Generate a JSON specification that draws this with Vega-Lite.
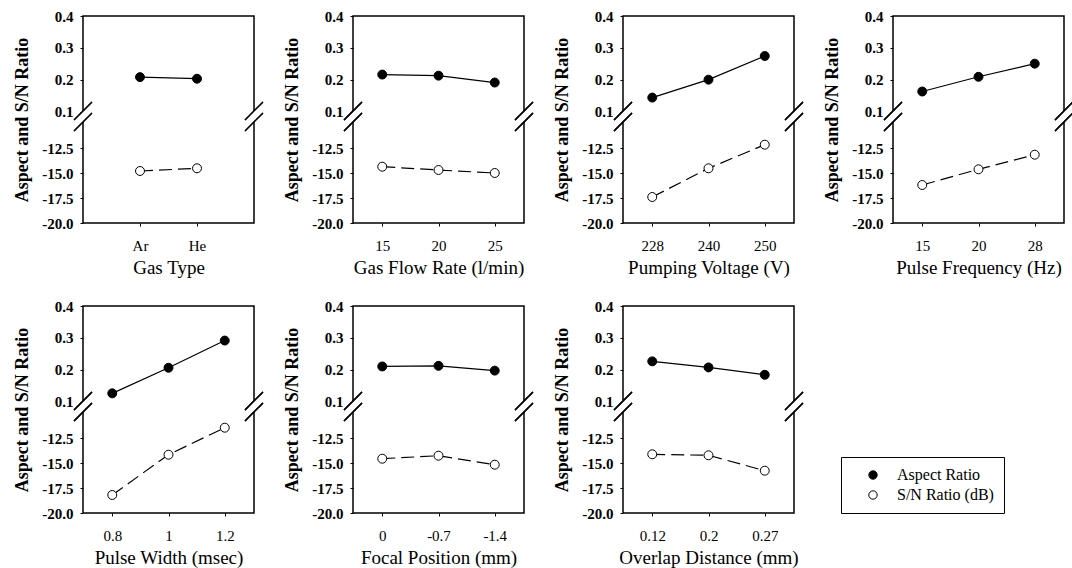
{
  "$schema": "https://vega.github.io/schema/vega-lite/v6.json",
  "background": "white",
  "padding": {"left": 13, "top": 8, "right": 5, "bottom": 5},
  "datasets": {
    "d": [
      {"factor": "Gas Type", "level": "Ar", "series": "Aspect Ratio", "value": 0.209},
      {"factor": "Gas Type", "level": "He", "series": "Aspect Ratio", "value": 0.204},
      {"factor": "Gas Type", "level": "Ar", "series": "S/N Ratio (dB)", "value": -14.8},
      {"factor": "Gas Type", "level": "He", "series": "S/N Ratio (dB)", "value": -14.53},
      {"factor": "Gas Flow", "level": "15", "series": "Aspect Ratio", "value": 0.217},
      {"factor": "Gas Flow", "level": "20", "series": "Aspect Ratio", "value": 0.2135},
      {"factor": "Gas Flow", "level": "25", "series": "Aspect Ratio", "value": 0.192},
      {"factor": "Gas Flow", "level": "15", "series": "S/N Ratio (dB)", "value": -14.37},
      {"factor": "Gas Flow", "level": "20", "series": "S/N Ratio (dB)", "value": -14.7},
      {"factor": "Gas Flow", "level": "25", "series": "S/N Ratio (dB)", "value": -15.0},
      {"factor": "Pumping Voltage", "level": "228", "series": "Aspect Ratio", "value": 0.145},
      {"factor": "Pumping Voltage", "level": "240", "series": "Aspect Ratio", "value": 0.201},
      {"factor": "Pumping Voltage", "level": "250", "series": "Aspect Ratio", "value": 0.275},
      {"factor": "Pumping Voltage", "level": "228", "series": "S/N Ratio (dB)", "value": -17.4},
      {"factor": "Pumping Voltage", "level": "240", "series": "S/N Ratio (dB)", "value": -14.53},
      {"factor": "Pumping Voltage", "level": "250", "series": "S/N Ratio (dB)", "value": -12.17},
      {"factor": "Pulse Frequency", "level": "15", "series": "Aspect Ratio", "value": 0.164},
      {"factor": "Pulse Frequency", "level": "20", "series": "Aspect Ratio", "value": 0.21},
      {"factor": "Pulse Frequency", "level": "28", "series": "Aspect Ratio", "value": 0.251},
      {"factor": "Pulse Frequency", "level": "15", "series": "S/N Ratio (dB)", "value": -16.2},
      {"factor": "Pulse Frequency", "level": "20", "series": "S/N Ratio (dB)", "value": -14.63},
      {"factor": "Pulse Frequency", "level": "28", "series": "S/N Ratio (dB)", "value": -13.17},
      {"factor": "Pulse Width", "level": "0.8", "series": "Aspect Ratio", "value": 0.127},
      {"factor": "Pulse Width", "level": "1", "series": "Aspect Ratio", "value": 0.207},
      {"factor": "Pulse Width", "level": "1.2", "series": "Aspect Ratio", "value": 0.292},
      {"factor": "Pulse Width", "level": "0.8", "series": "S/N Ratio (dB)", "value": -18.2},
      {"factor": "Pulse Width", "level": "1", "series": "S/N Ratio (dB)", "value": -14.17},
      {"factor": "Pulse Width", "level": "1.2", "series": "S/N Ratio (dB)", "value": -11.47},
      {"factor": "Focal Position", "level": "0", "series": "Aspect Ratio", "value": 0.211},
      {"factor": "Focal Position", "level": "-0.7", "series": "Aspect Ratio", "value": 0.213},
      {"factor": "Focal Position", "level": "-1.4", "series": "Aspect Ratio", "value": 0.198},
      {"factor": "Focal Position", "level": "0", "series": "S/N Ratio (dB)", "value": -14.57},
      {"factor": "Focal Position", "level": "-0.7", "series": "S/N Ratio (dB)", "value": -14.27},
      {"factor": "Focal Position", "level": "-1.4", "series": "S/N Ratio (dB)", "value": -15.17},
      {"factor": "Overlap Distance", "level": "0.12", "series": "Aspect Ratio", "value": 0.227},
      {"factor": "Overlap Distance", "level": "0.2", "series": "Aspect Ratio", "value": 0.208},
      {"factor": "Overlap Distance", "level": "0.27", "series": "Aspect Ratio", "value": 0.185},
      {"factor": "Overlap Distance", "level": "0.12", "series": "S/N Ratio (dB)", "value": -14.13},
      {"factor": "Overlap Distance", "level": "0.2", "series": "S/N Ratio (dB)", "value": -14.23},
      {"factor": "Overlap Distance", "level": "0.27", "series": "S/N Ratio (dB)", "value": -15.77}
    ]
  },
  "data": {"name": "d"},
  "columns": 4,
  "spacing": {"row": 20, "column": 16},
  "concat": [
    {
      "transform": [{"filter": "datum.factor == 'Gas Type'"}],
      "width": 171, "height": 207,
      "encoding": {"x": {"field": "level", "type": "ordinal", "sort": null, "scale": {"type": "point", "padding": 1}, "axis": {"title": "Gas Type"}}},
      "layer": [
        {
          "transform": [{"filter": "datum.series == 'Aspect Ratio'"}],
          "encoding": {"y": {"field": "value", "type": "quantitative", "scale": {"domain": [-0.247, 0.4], "nice": false, "zero": false}, "axis": {"orient": "left", "values": [0.1, 0.2, 0.3, 0.4], "format": ".1f", "title": null}}},
          "layer": [
            {"mark": {"type": "line", "color": "black", "strokeWidth": 1.2}},
            {"mark": {"type": "point", "shape": "circle", "filled": true, "size": 80, "opacity": 1, "stroke": "black", "strokeWidth": 1}, "encoding": {"fill": {"field": "series", "type": "nominal", "scale": {"domain": ["Aspect Ratio", "S/N Ratio (dB)"], "range": ["black", "white"]}, "legend": {"orient": "none", "legendX": 758, "legendY": 441, "title": null}}}},
            {"mark": {"type": "point", "shape": "M-0.9,0.35L0.9,-1.45L0.9,-0.35L-0.9,1.45Z", "filled": true, "fill": "white", "strokeWidth": 0, "size": 400, "opacity": 1}, "encoding": {"x": {"value": 0}, "y": {"datum": 0.086, "type": "quantitative"}}},
            {"mark": {"type": "point", "shape": "M-0.9,0.35L0.9,-1.45M-0.9,1.45L0.9,-0.35", "filled": false, "stroke": "black", "strokeWidth": 1.2, "size": 400, "opacity": 1}, "encoding": {"x": {"value": 0}, "y": {"datum": 0.086, "type": "quantitative"}}},
            {"mark": {"type": "point", "shape": "M-0.9,0.35L0.9,-1.45L0.9,-0.35L-0.9,1.45Z", "filled": true, "fill": "white", "strokeWidth": 0, "size": 400, "opacity": 1}, "encoding": {"x": {"value": "width"}, "y": {"datum": 0.086, "type": "quantitative"}}},
            {"mark": {"type": "point", "shape": "M-0.9,0.35L0.9,-1.45M-0.9,1.45L0.9,-0.35", "filled": false, "stroke": "black", "strokeWidth": 1.2, "size": 400, "opacity": 1}, "encoding": {"x": {"value": "width"}, "y": {"datum": 0.086, "type": "quantitative"}}}
          ]
        },
        {
          "transform": [{"filter": "datum.series == 'S/N Ratio (dB)'"}],
          "encoding": {"y": {"field": "value", "type": "quantitative", "scale": {"domain": [-20, 0.7], "nice": false, "zero": false}, "axis": {"orient": "left", "values": [-20, -17.5, -15, -12.5], "format": ".1f", "labelExpr": "replace(datum.label, '\u2212', '-')", "title": "Aspect and S/N Ratio"}}},
          "layer": [
            {"mark": {"type": "line", "color": "black", "strokeWidth": 1.2, "strokeDash": [13, 6]}},
            {"mark": {"type": "point", "shape": "circle", "filled": true, "size": 80, "opacity": 1, "stroke": "black", "strokeWidth": 1}, "encoding": {"fill": {"field": "series", "type": "nominal", "scale": {"domain": ["Aspect Ratio", "S/N Ratio (dB)"], "range": ["black", "white"]}, "legend": {"orient": "none", "legendX": 758, "legendY": 441, "title": null}}}}
          ]
        }
      ],
      "resolve": {"scale": {"y": "independent"}, "axis": {"y": "independent"}}
    },
    {
      "transform": [{"filter": "datum.factor == 'Gas Flow'"}],
      "width": 171, "height": 207,
      "encoding": {"x": {"field": "level", "type": "ordinal", "sort": null, "scale": {"type": "point", "padding": 0.52}, "axis": {"title": "Gas Flow Rate (l/min)"}}},
      "layer": [
        {
          "transform": [{"filter": "datum.series == 'Aspect Ratio'"}],
          "encoding": {"y": {"field": "value", "type": "quantitative", "scale": {"domain": [-0.247, 0.4], "nice": false, "zero": false}, "axis": {"orient": "left", "values": [0.1, 0.2, 0.3, 0.4], "format": ".1f", "title": null}}},
          "layer": [
            {"mark": {"type": "line", "color": "black", "strokeWidth": 1.2}},
            {"mark": {"type": "point", "shape": "circle", "filled": true, "size": 80, "opacity": 1, "stroke": "black", "strokeWidth": 1}, "encoding": {"fill": {"field": "series", "type": "nominal", "scale": {"domain": ["Aspect Ratio", "S/N Ratio (dB)"], "range": ["black", "white"]}, "legend": {"orient": "none", "legendX": 758, "legendY": 441, "title": null}}}},
            {"mark": {"type": "point", "shape": "M-0.9,0.35L0.9,-1.45L0.9,-0.35L-0.9,1.45Z", "filled": true, "fill": "white", "strokeWidth": 0, "size": 400, "opacity": 1}, "encoding": {"x": {"value": 0}, "y": {"datum": 0.086, "type": "quantitative"}}},
            {"mark": {"type": "point", "shape": "M-0.9,0.35L0.9,-1.45M-0.9,1.45L0.9,-0.35", "filled": false, "stroke": "black", "strokeWidth": 1.2, "size": 400, "opacity": 1}, "encoding": {"x": {"value": 0}, "y": {"datum": 0.086, "type": "quantitative"}}},
            {"mark": {"type": "point", "shape": "M-0.9,0.35L0.9,-1.45L0.9,-0.35L-0.9,1.45Z", "filled": true, "fill": "white", "strokeWidth": 0, "size": 400, "opacity": 1}, "encoding": {"x": {"value": "width"}, "y": {"datum": 0.086, "type": "quantitative"}}},
            {"mark": {"type": "point", "shape": "M-0.9,0.35L0.9,-1.45M-0.9,1.45L0.9,-0.35", "filled": false, "stroke": "black", "strokeWidth": 1.2, "size": 400, "opacity": 1}, "encoding": {"x": {"value": "width"}, "y": {"datum": 0.086, "type": "quantitative"}}}
          ]
        },
        {
          "transform": [{"filter": "datum.series == 'S/N Ratio (dB)'"}],
          "encoding": {"y": {"field": "value", "type": "quantitative", "scale": {"domain": [-20, 0.7], "nice": false, "zero": false}, "axis": {"orient": "left", "values": [-20, -17.5, -15, -12.5], "format": ".1f", "labelExpr": "replace(datum.label, '\u2212', '-')", "title": "Aspect and S/N Ratio"}}},
          "layer": [
            {"mark": {"type": "line", "color": "black", "strokeWidth": 1.2, "strokeDash": [13, 6]}},
            {"mark": {"type": "point", "shape": "circle", "filled": true, "size": 80, "opacity": 1, "stroke": "black", "strokeWidth": 1}, "encoding": {"fill": {"field": "series", "type": "nominal", "scale": {"domain": ["Aspect Ratio", "S/N Ratio (dB)"], "range": ["black", "white"]}, "legend": {"orient": "none", "legendX": 758, "legendY": 441, "title": null}}}}
          ]
        }
      ],
      "resolve": {"scale": {"y": "independent"}, "axis": {"y": "independent"}}
    },
    {
      "transform": [{"filter": "datum.factor == 'Pumping Voltage'"}],
      "width": 171, "height": 207,
      "encoding": {"x": {"field": "level", "type": "ordinal", "sort": null, "scale": {"type": "point", "padding": 0.52}, "axis": {"title": "Pumping Voltage (V)"}}},
      "layer": [
        {
          "transform": [{"filter": "datum.series == 'Aspect Ratio'"}],
          "encoding": {"y": {"field": "value", "type": "quantitative", "scale": {"domain": [-0.247, 0.4], "nice": false, "zero": false}, "axis": {"orient": "left", "values": [0.1, 0.2, 0.3, 0.4], "format": ".1f", "title": null}}},
          "layer": [
            {"mark": {"type": "line", "color": "black", "strokeWidth": 1.2}},
            {"mark": {"type": "point", "shape": "circle", "filled": true, "size": 80, "opacity": 1, "stroke": "black", "strokeWidth": 1}, "encoding": {"fill": {"field": "series", "type": "nominal", "scale": {"domain": ["Aspect Ratio", "S/N Ratio (dB)"], "range": ["black", "white"]}, "legend": {"orient": "none", "legendX": 758, "legendY": 441, "title": null}}}},
            {"mark": {"type": "point", "shape": "M-0.9,0.35L0.9,-1.45L0.9,-0.35L-0.9,1.45Z", "filled": true, "fill": "white", "strokeWidth": 0, "size": 400, "opacity": 1}, "encoding": {"x": {"value": 0}, "y": {"datum": 0.086, "type": "quantitative"}}},
            {"mark": {"type": "point", "shape": "M-0.9,0.35L0.9,-1.45M-0.9,1.45L0.9,-0.35", "filled": false, "stroke": "black", "strokeWidth": 1.2, "size": 400, "opacity": 1}, "encoding": {"x": {"value": 0}, "y": {"datum": 0.086, "type": "quantitative"}}},
            {"mark": {"type": "point", "shape": "M-0.9,0.35L0.9,-1.45L0.9,-0.35L-0.9,1.45Z", "filled": true, "fill": "white", "strokeWidth": 0, "size": 400, "opacity": 1}, "encoding": {"x": {"value": "width"}, "y": {"datum": 0.086, "type": "quantitative"}}},
            {"mark": {"type": "point", "shape": "M-0.9,0.35L0.9,-1.45M-0.9,1.45L0.9,-0.35", "filled": false, "stroke": "black", "strokeWidth": 1.2, "size": 400, "opacity": 1}, "encoding": {"x": {"value": "width"}, "y": {"datum": 0.086, "type": "quantitative"}}}
          ]
        },
        {
          "transform": [{"filter": "datum.series == 'S/N Ratio (dB)'"}],
          "encoding": {"y": {"field": "value", "type": "quantitative", "scale": {"domain": [-20, 0.7], "nice": false, "zero": false}, "axis": {"orient": "left", "values": [-20, -17.5, -15, -12.5], "format": ".1f", "labelExpr": "replace(datum.label, '\u2212', '-')", "title": "Aspect and S/N Ratio"}}},
          "layer": [
            {"mark": {"type": "line", "color": "black", "strokeWidth": 1.2, "strokeDash": [13, 6]}},
            {"mark": {"type": "point", "shape": "circle", "filled": true, "size": 80, "opacity": 1, "stroke": "black", "strokeWidth": 1}, "encoding": {"fill": {"field": "series", "type": "nominal", "scale": {"domain": ["Aspect Ratio", "S/N Ratio (dB)"], "range": ["black", "white"]}, "legend": {"orient": "none", "legendX": 758, "legendY": 441, "title": null}}}}
          ]
        }
      ],
      "resolve": {"scale": {"y": "independent"}, "axis": {"y": "independent"}}
    },
    {
      "transform": [{"filter": "datum.factor == 'Pulse Frequency'"}],
      "width": 171, "height": 207,
      "encoding": {"x": {"field": "level", "type": "ordinal", "sort": null, "scale": {"type": "point", "padding": 0.52}, "axis": {"title": "Pulse Frequency  (Hz)"}}},
      "layer": [
        {
          "transform": [{"filter": "datum.series == 'Aspect Ratio'"}],
          "encoding": {"y": {"field": "value", "type": "quantitative", "scale": {"domain": [-0.247, 0.4], "nice": false, "zero": false}, "axis": {"orient": "left", "values": [0.1, 0.2, 0.3, 0.4], "format": ".1f", "title": null}}},
          "layer": [
            {"mark": {"type": "line", "color": "black", "strokeWidth": 1.2}},
            {"mark": {"type": "point", "shape": "circle", "filled": true, "size": 80, "opacity": 1, "stroke": "black", "strokeWidth": 1}, "encoding": {"fill": {"field": "series", "type": "nominal", "scale": {"domain": ["Aspect Ratio", "S/N Ratio (dB)"], "range": ["black", "white"]}, "legend": {"orient": "none", "legendX": 758, "legendY": 441, "title": null}}}},
            {"mark": {"type": "point", "shape": "M-0.9,0.35L0.9,-1.45L0.9,-0.35L-0.9,1.45Z", "filled": true, "fill": "white", "strokeWidth": 0, "size": 400, "opacity": 1}, "encoding": {"x": {"value": 0}, "y": {"datum": 0.086, "type": "quantitative"}}},
            {"mark": {"type": "point", "shape": "M-0.9,0.35L0.9,-1.45M-0.9,1.45L0.9,-0.35", "filled": false, "stroke": "black", "strokeWidth": 1.2, "size": 400, "opacity": 1}, "encoding": {"x": {"value": 0}, "y": {"datum": 0.086, "type": "quantitative"}}},
            {"mark": {"type": "point", "shape": "M-0.9,0.35L0.9,-1.45L0.9,-0.35L-0.9,1.45Z", "filled": true, "fill": "white", "strokeWidth": 0, "size": 400, "opacity": 1}, "encoding": {"x": {"value": "width"}, "y": {"datum": 0.086, "type": "quantitative"}}},
            {"mark": {"type": "point", "shape": "M-0.9,0.35L0.9,-1.45M-0.9,1.45L0.9,-0.35", "filled": false, "stroke": "black", "strokeWidth": 1.2, "size": 400, "opacity": 1}, "encoding": {"x": {"value": "width"}, "y": {"datum": 0.086, "type": "quantitative"}}}
          ]
        },
        {
          "transform": [{"filter": "datum.series == 'S/N Ratio (dB)'"}],
          "encoding": {"y": {"field": "value", "type": "quantitative", "scale": {"domain": [-20, 0.7], "nice": false, "zero": false}, "axis": {"orient": "left", "values": [-20, -17.5, -15, -12.5], "format": ".1f", "labelExpr": "replace(datum.label, '\u2212', '-')", "title": "Aspect and S/N Ratio"}}},
          "layer": [
            {"mark": {"type": "line", "color": "black", "strokeWidth": 1.2, "strokeDash": [13, 6]}},
            {"mark": {"type": "point", "shape": "circle", "filled": true, "size": 80, "opacity": 1, "stroke": "black", "strokeWidth": 1}, "encoding": {"fill": {"field": "series", "type": "nominal", "scale": {"domain": ["Aspect Ratio", "S/N Ratio (dB)"], "range": ["black", "white"]}, "legend": {"orient": "none", "legendX": 758, "legendY": 441, "title": null}}}}
          ]
        }
      ],
      "resolve": {"scale": {"y": "independent"}, "axis": {"y": "independent"}}
    },
    {
      "transform": [{"filter": "datum.factor == 'Pulse Width'"}],
      "width": 171, "height": 207,
      "encoding": {"x": {"field": "level", "type": "ordinal", "sort": null, "scale": {"type": "point", "padding": 0.52}, "axis": {"title": "Pulse Width (msec)"}}},
      "layer": [
        {
          "transform": [{"filter": "datum.series == 'Aspect Ratio'"}],
          "encoding": {"y": {"field": "value", "type": "quantitative", "scale": {"domain": [-0.247, 0.4], "nice": false, "zero": false}, "axis": {"orient": "left", "values": [0.1, 0.2, 0.3, 0.4], "format": ".1f", "title": null}}},
          "layer": [
            {"mark": {"type": "line", "color": "black", "strokeWidth": 1.2}},
            {"mark": {"type": "point", "shape": "circle", "filled": true, "size": 80, "opacity": 1, "stroke": "black", "strokeWidth": 1}, "encoding": {"fill": {"field": "series", "type": "nominal", "scale": {"domain": ["Aspect Ratio", "S/N Ratio (dB)"], "range": ["black", "white"]}, "legend": {"orient": "none", "legendX": 758, "legendY": 441, "title": null}}}},
            {"mark": {"type": "point", "shape": "M-0.9,0.35L0.9,-1.45L0.9,-0.35L-0.9,1.45Z", "filled": true, "fill": "white", "strokeWidth": 0, "size": 400, "opacity": 1}, "encoding": {"x": {"value": 0}, "y": {"datum": 0.086, "type": "quantitative"}}},
            {"mark": {"type": "point", "shape": "M-0.9,0.35L0.9,-1.45M-0.9,1.45L0.9,-0.35", "filled": false, "stroke": "black", "strokeWidth": 1.2, "size": 400, "opacity": 1}, "encoding": {"x": {"value": 0}, "y": {"datum": 0.086, "type": "quantitative"}}},
            {"mark": {"type": "point", "shape": "M-0.9,0.35L0.9,-1.45L0.9,-0.35L-0.9,1.45Z", "filled": true, "fill": "white", "strokeWidth": 0, "size": 400, "opacity": 1}, "encoding": {"x": {"value": "width"}, "y": {"datum": 0.086, "type": "quantitative"}}},
            {"mark": {"type": "point", "shape": "M-0.9,0.35L0.9,-1.45M-0.9,1.45L0.9,-0.35", "filled": false, "stroke": "black", "strokeWidth": 1.2, "size": 400, "opacity": 1}, "encoding": {"x": {"value": "width"}, "y": {"datum": 0.086, "type": "quantitative"}}}
          ]
        },
        {
          "transform": [{"filter": "datum.series == 'S/N Ratio (dB)'"}],
          "encoding": {"y": {"field": "value", "type": "quantitative", "scale": {"domain": [-20, 0.7], "nice": false, "zero": false}, "axis": {"orient": "left", "values": [-20, -17.5, -15, -12.5], "format": ".1f", "labelExpr": "replace(datum.label, '\u2212', '-')", "title": "Aspect and S/N Ratio"}}},
          "layer": [
            {"mark": {"type": "line", "color": "black", "strokeWidth": 1.2, "strokeDash": [13, 6]}},
            {"mark": {"type": "point", "shape": "circle", "filled": true, "size": 80, "opacity": 1, "stroke": "black", "strokeWidth": 1}, "encoding": {"fill": {"field": "series", "type": "nominal", "scale": {"domain": ["Aspect Ratio", "S/N Ratio (dB)"], "range": ["black", "white"]}, "legend": {"orient": "none", "legendX": 758, "legendY": 441, "title": null}}}}
          ]
        }
      ],
      "resolve": {"scale": {"y": "independent"}, "axis": {"y": "independent"}}
    },
    {
      "transform": [{"filter": "datum.factor == 'Focal Position'"}],
      "width": 171, "height": 207,
      "encoding": {"x": {"field": "level", "type": "ordinal", "sort": null, "scale": {"type": "point", "padding": 0.52}, "axis": {"title": "Focal Position (mm)"}}},
      "layer": [
        {
          "transform": [{"filter": "datum.series == 'Aspect Ratio'"}],
          "encoding": {"y": {"field": "value", "type": "quantitative", "scale": {"domain": [-0.247, 0.4], "nice": false, "zero": false}, "axis": {"orient": "left", "values": [0.1, 0.2, 0.3, 0.4], "format": ".1f", "title": null}}},
          "layer": [
            {"mark": {"type": "line", "color": "black", "strokeWidth": 1.2}},
            {"mark": {"type": "point", "shape": "circle", "filled": true, "size": 80, "opacity": 1, "stroke": "black", "strokeWidth": 1}, "encoding": {"fill": {"field": "series", "type": "nominal", "scale": {"domain": ["Aspect Ratio", "S/N Ratio (dB)"], "range": ["black", "white"]}, "legend": {"orient": "none", "legendX": 758, "legendY": 441, "title": null}}}},
            {"mark": {"type": "point", "shape": "M-0.9,0.35L0.9,-1.45L0.9,-0.35L-0.9,1.45Z", "filled": true, "fill": "white", "strokeWidth": 0, "size": 400, "opacity": 1}, "encoding": {"x": {"value": 0}, "y": {"datum": 0.086, "type": "quantitative"}}},
            {"mark": {"type": "point", "shape": "M-0.9,0.35L0.9,-1.45M-0.9,1.45L0.9,-0.35", "filled": false, "stroke": "black", "strokeWidth": 1.2, "size": 400, "opacity": 1}, "encoding": {"x": {"value": 0}, "y": {"datum": 0.086, "type": "quantitative"}}},
            {"mark": {"type": "point", "shape": "M-0.9,0.35L0.9,-1.45L0.9,-0.35L-0.9,1.45Z", "filled": true, "fill": "white", "strokeWidth": 0, "size": 400, "opacity": 1}, "encoding": {"x": {"value": "width"}, "y": {"datum": 0.086, "type": "quantitative"}}},
            {"mark": {"type": "point", "shape": "M-0.9,0.35L0.9,-1.45M-0.9,1.45L0.9,-0.35", "filled": false, "stroke": "black", "strokeWidth": 1.2, "size": 400, "opacity": 1}, "encoding": {"x": {"value": "width"}, "y": {"datum": 0.086, "type": "quantitative"}}}
          ]
        },
        {
          "transform": [{"filter": "datum.series == 'S/N Ratio (dB)'"}],
          "encoding": {"y": {"field": "value", "type": "quantitative", "scale": {"domain": [-20, 0.7], "nice": false, "zero": false}, "axis": {"orient": "left", "values": [-20, -17.5, -15, -12.5], "format": ".1f", "labelExpr": "replace(datum.label, '\u2212', '-')", "title": "Aspect and S/N Ratio"}}},
          "layer": [
            {"mark": {"type": "line", "color": "black", "strokeWidth": 1.2, "strokeDash": [13, 6]}},
            {"mark": {"type": "point", "shape": "circle", "filled": true, "size": 80, "opacity": 1, "stroke": "black", "strokeWidth": 1}, "encoding": {"fill": {"field": "series", "type": "nominal", "scale": {"domain": ["Aspect Ratio", "S/N Ratio (dB)"], "range": ["black", "white"]}, "legend": {"orient": "none", "legendX": 758, "legendY": 441, "title": null}}}}
          ]
        }
      ],
      "resolve": {"scale": {"y": "independent"}, "axis": {"y": "independent"}}
    },
    {
      "transform": [{"filter": "datum.factor == 'Overlap Distance'"}],
      "width": 171, "height": 207,
      "encoding": {"x": {"field": "level", "type": "ordinal", "sort": null, "scale": {"type": "point", "padding": 0.52}, "axis": {"title": "Overlap Distance (mm)"}}},
      "layer": [
        {
          "transform": [{"filter": "datum.series == 'Aspect Ratio'"}],
          "encoding": {"y": {"field": "value", "type": "quantitative", "scale": {"domain": [-0.247, 0.4], "nice": false, "zero": false}, "axis": {"orient": "left", "values": [0.1, 0.2, 0.3, 0.4], "format": ".1f", "title": null}}},
          "layer": [
            {"mark": {"type": "line", "color": "black", "strokeWidth": 1.2}},
            {"mark": {"type": "point", "shape": "circle", "filled": true, "size": 80, "opacity": 1, "stroke": "black", "strokeWidth": 1}, "encoding": {"fill": {"field": "series", "type": "nominal", "scale": {"domain": ["Aspect Ratio", "S/N Ratio (dB)"], "range": ["black", "white"]}, "legend": {"orient": "none", "legendX": 758, "legendY": 441, "title": null}}}},
            {"mark": {"type": "point", "shape": "M-0.9,0.35L0.9,-1.45L0.9,-0.35L-0.9,1.45Z", "filled": true, "fill": "white", "strokeWidth": 0, "size": 400, "opacity": 1}, "encoding": {"x": {"value": 0}, "y": {"datum": 0.086, "type": "quantitative"}}},
            {"mark": {"type": "point", "shape": "M-0.9,0.35L0.9,-1.45M-0.9,1.45L0.9,-0.35", "filled": false, "stroke": "black", "strokeWidth": 1.2, "size": 400, "opacity": 1}, "encoding": {"x": {"value": 0}, "y": {"datum": 0.086, "type": "quantitative"}}},
            {"mark": {"type": "point", "shape": "M-0.9,0.35L0.9,-1.45L0.9,-0.35L-0.9,1.45Z", "filled": true, "fill": "white", "strokeWidth": 0, "size": 400, "opacity": 1}, "encoding": {"x": {"value": "width"}, "y": {"datum": 0.086, "type": "quantitative"}}},
            {"mark": {"type": "point", "shape": "M-0.9,0.35L0.9,-1.45M-0.9,1.45L0.9,-0.35", "filled": false, "stroke": "black", "strokeWidth": 1.2, "size": 400, "opacity": 1}, "encoding": {"x": {"value": "width"}, "y": {"datum": 0.086, "type": "quantitative"}}}
          ]
        },
        {
          "transform": [{"filter": "datum.series == 'S/N Ratio (dB)'"}],
          "encoding": {"y": {"field": "value", "type": "quantitative", "scale": {"domain": [-20, 0.7], "nice": false, "zero": false}, "axis": {"orient": "left", "values": [-20, -17.5, -15, -12.5], "format": ".1f", "labelExpr": "replace(datum.label, '\u2212', '-')", "title": "Aspect and S/N Ratio"}}},
          "layer": [
            {"mark": {"type": "line", "color": "black", "strokeWidth": 1.2, "strokeDash": [13, 6]}},
            {"mark": {"type": "point", "shape": "circle", "filled": true, "size": 80, "opacity": 1, "stroke": "black", "strokeWidth": 1}, "encoding": {"fill": {"field": "series", "type": "nominal", "scale": {"domain": ["Aspect Ratio", "S/N Ratio (dB)"], "range": ["black", "white"]}, "legend": {"orient": "none", "legendX": 758, "legendY": 441, "title": null}}}}
          ]
        }
      ],
      "resolve": {"scale": {"y": "independent"}, "axis": {"y": "independent"}}
    }
  ],
  "resolve": {"scale": {"fill": "shared"}, "legend": {"fill": "shared"}},
  "config": {
    "view": {"stroke": "black", "strokeWidth": 1.5},
    "font": "Liberation Serif",
    "axis": {"grid": false, "domain": false, "tickColor": "black", "tickSize": 3, "labelColor": "black", "titleColor": "black", "labelFont": "Liberation Serif", "titleFont": "Liberation Serif"},
    "axisY": {"labelFontSize": 15, "labelFontWeight": "bold", "labelPadding": 7, "titleFontSize": 18, "titleFontWeight": "bold", "titlePadding": 10},
    "axisX": {"labelFontSize": 15, "labelFontWeight": "normal", "labelAngle": 0, "labelPadding": 12, "titleFontSize": 19, "titleFontWeight": "normal", "titlePadding": 5},
    "legend": {"strokeColor": "black", "padding": 10, "symbolType": "circle", "symbolSize": 70, "symbolStrokeColor": "black", "symbolStrokeWidth": 1, "symbolOffset": 14, "labelFont": "Liberation Serif", "labelFontSize": 16, "labelColor": "black", "labelOffset": 16, "rowPadding": 4}
  }
}
